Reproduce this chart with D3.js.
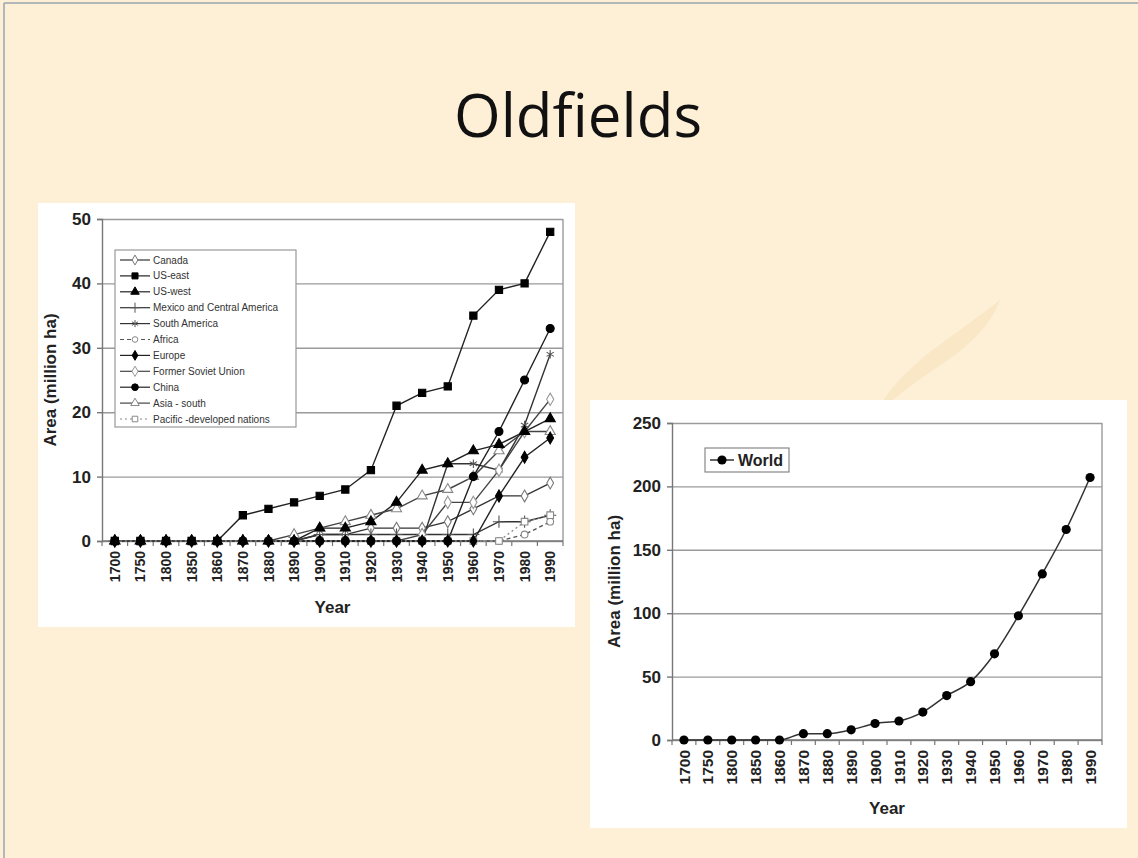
<!DOCTYPE html>
<html>
<head>
<meta charset="utf-8">
<script src="https://cdn.jsdelivr.net/npm/d3@7"></script>
<style>
  body { margin: 0; background: #fdf0d6; }
  svg { display: block; font-family: "Liberation Sans", Arial, sans-serif; }
</style>
</head>
<body>
<svg id="slide" width="1138" height="858"></svg>
<script>
// category axis (both charts)
const years = ["1700","1750","1800","1850","1860","1870","1880","1890","1900",
               "1910","1920","1930","1940","1950","1960","1970","1980","1990"];

// left chart, area of oldfields by region (million ha)
const canada       = [0,0,0,0,0,0,0,0,1,1,2,2,2,3,5,7,7,9];
const usEast       = [0,0,0,0,0,4,5,6,7,8,11,21,23,24,35,39,40,48];
const usWest       = [0,0,0,0,0,0,0,0,2,2,3,6,11,12,14,15,17,19];
const mexico       = [0,0,0,0,0,0,0,0,1,1,1,1,1,1,1,3,3,4];
const southAmerica = [0,0,0,0,0,0,0,0,0,0,0,0,0,12,12,11,18,29];
const africa       = [0,0,0,0,0,0,0,0,0,0,0,0,0,0,0,0,1,3];
const europe       = [0,0,0,0,0,0,0,0,0,0,0,0,0,0,0,7,13,16];
const formerSoviet = [0,0,0,0,0,0,0,0,0,0,0,0,1,6,6,11,17,22];
const china        = [0,0,0,0,0,0,0,0,0,0,0,0,0,0,10,17,25,33];
const asiaSouth    = [0,0,0,0,0,0,0,1,2,3,4,5,7,8,10,14,17,17];
const pacific      = [0,0,0,0,0,0,0,0,0,0,0,0,0,0,0,0,3,4];
const leftTicks    = [0,10,20,30,40,50];

// right chart, world total
const world      = [0,0,0,0,0,5,5,8,13,15,22,35,46,68,98,131,166,207];
const rightTicks = [0,50,100,150,200,250];

const svg = d3.select("#slide");

// slide frame + faint watermark
svg.append("rect").attr("width", 1138).attr("height", 858).attr("fill", "#fdf0d6");
svg.append("path")
    .attr("d", "M1000,300 C985,312 960,330 930,352 C905,372 885,392 872,420 C890,400 915,382 945,362 C970,345 990,326 1000,300 Z")
    .attr("fill", "#f3dcb4").attr("opacity", 0.45);
svg.append("line").attr("x1", 4).attr("y1", 3).attr("x2", 1138).attr("y2", 3)
    .attr("stroke", "#9aa4ae").attr("stroke-width", 1.5);
svg.append("line").attr("x1", 4).attr("y1", 3).attr("x2", 4).attr("y2", 858)
    .attr("stroke", "#9aa4ae").attr("stroke-width", 1.5);

svg.append("text")
    .attr("x", 578).attr("y", 137)
    .attr("text-anchor", "middle")
    .style("font-family", "'Open Sans', 'Noto Sans', sans-serif")
    .style("font-size", "60px")
    .attr("fill", "#111")
    .text("Oldfields");

// draws the shared frame of one Excel-style chart
function frame(g, x, y, ticks, opt) {
    const [x0, x1] = x.range();
    const [y0, y1] = y.range();
    const step = x.step();

    g.append("rect")
        .attr("x", opt.panel[0]).attr("y", opt.panel[1])
        .attr("width", opt.panel[2]).attr("height", opt.panel[3])
        .attr("fill", "#fff");

    // gridlines
    g.append("g")
        .attr("transform", `translate(${x0},0)`)
        .call(d3.axisLeft(y).tickValues(ticks).tickSize(-(x1 - x0)).tickFormat(""))
        .call(a => a.select(".domain").remove())
        .call(a => a.selectAll("line").attr("stroke", "#9a9a9a").attr("stroke-width", 1.4));

    // plot border (right side)
    g.append("line")
        .attr("x1", x1).attr("x2", x1).attr("y1", y1).attr("y2", y0)
        .attr("stroke", "#9a9a9a").attr("stroke-width", 1.4);

    // y axis
    g.append("g")
        .attr("transform", `translate(${x0},0)`)
        .call(d3.axisLeft(y).tickValues(ticks).tickSize(5).tickPadding(6).tickFormat(d3.format("d")))
        .call(a => a.selectAll("path,line").attr("stroke", "#777").attr("stroke-width", 1.4))
        .call(a => a.selectAll("text")
            .attr("fill", "#222").style("font-size", opt.yFont + "px").style("font-weight", "bold"));

    // x axis line
    g.append("line")
        .attr("x1", x0).attr("x2", x1).attr("y1", y0).attr("y2", y0)
        .attr("stroke", "#777").attr("stroke-width", 1.4);

    // tick marks between categories
    g.append("g").selectAll("line")
        .data(x.domain().concat(["end"]))
        .join("line")
        .attr("x1", (d, i) => i < years.length ? x(d) - step / 2 : x(years[years.length - 1]) + step / 2)
        .attr("x2", (d, i) => i < years.length ? x(d) - step / 2 : x(years[years.length - 1]) + step / 2)
        .attr("y1", y0).attr("y2", y0 + 5)
        .attr("stroke", "#777").attr("stroke-width", 1.2);

    // rotated year labels
    g.append("g").selectAll("text")
        .data(x.domain())
        .join("text")
        .attr("transform", d => `translate(${x(d)},${y0 + 10}) rotate(-90)`)
        .attr("text-anchor", "end")
        .attr("dy", "0.36em")
        .attr("fill", "#222")
        .style("font-size", opt.xFont + "px")
        .style("font-weight", "bold")
        .text(d => d);

    g.append("text")
        .attr("transform", `translate(${opt.yTitleX},${(y0 + y1) / 2}) rotate(-90)`)
        .attr("text-anchor", "middle")
        .attr("fill", "#222")
        .style("font-size", "17px").style("font-weight", "bold")
        .text("Area (million ha)");

    g.append("text")
        .attr("x", (x0 + x1) / 2).attr("y", opt.xTitleY)
        .attr("text-anchor", "middle")
        .attr("fill", "#222")
        .style("font-size", "17px").style("font-weight", "bold")
        .text("Year");
}

// ---------- left chart ----------
const xL = d3.scalePoint().domain(years).range([102, 563]).padding(0.5);
const yL = d3.scaleLinear().domain([0, 50]).range([541, 219]);

const left = svg.append("g");
frame(left, xL, yL, leftTicks, {
    panel: [38, 203, 537, 424], yFont: 17, xFont: 14, yTitleX: 56, xTitleY: 613
});

// z: marker stacking, filled markers end up on top like in the original
const leftSeries = [
    {name: "Canada", values: canada, sym: d3.symbolDiamond, size: 40, fill: "#fff", mark: "#777", line: "#333", dash: null, z: 0},
    {name: "US-east", values: usEast, sym: d3.symbolSquare, size: 52, fill: "#000", mark: "#000", line: "#222", dash: null, z: 4},
    {name: "US-west", values: usWest, sym: d3.symbolTriangle, size: 45, fill: "#000", mark: "#000", line: "#222", dash: null, z: 1},
    {name: "Mexico and Central America", values: mexico, sym: d3.symbolPlus, size: 50, fill: "none", mark: "#555", line: "#333", dash: null, z: 0},
    {name: "South America", values: southAmerica, sym: d3.symbolAsterisk, size: 50, fill: "none", mark: "#555", line: "#333", dash: null, z: 0},
    {name: "Africa", values: africa, sym: d3.symbolCircle, size: 36, fill: "#fff", mark: "#888", line: "#555", dash: "4,3", z: 0},
    {name: "Europe", values: europe, sym: d3.symbolDiamond, size: 40, fill: "#000", mark: "#000", line: "#222", dash: null, z: 2},
    {name: "Former Soviet Union", values: formerSoviet, sym: d3.symbolDiamond, size: 44, fill: "#fff", mark: "#999", line: "#444", dash: null, z: 0},
    {name: "China", values: china, sym: d3.symbolCircle, size: 50, fill: "#000", mark: "#000", line: "#222", dash: null, z: 3},
    {name: "Asia - south", values: asiaSouth, sym: d3.symbolTriangle, size: 45, fill: "#fff", mark: "#888", line: "#444", dash: null, z: 0},
    {name: "Pacific -developed nations", values: pacific, sym: d3.symbolSquare, size: 44, fill: "#fff", mark: "#888", line: "#888", dash: "2,3", z: 0}
];

const lineL = d3.line().x((d, i) => xL(years[i])).y(d => yL(d));

left.append("g").selectAll("path")
    .data(leftSeries)
    .join("path")
    .attr("d", s => lineL(s.values))
    .attr("fill", "none")
    .attr("stroke", s => s.line)
    .attr("stroke-width", 1.4)
    .attr("stroke-dasharray", s => s.dash);

leftSeries.slice().sort((a, b) => a.z - b.z).forEach(s => {
    left.append("g").selectAll("path")
        .data(s.values)
        .join("path")
        .attr("transform", (d, i) => `translate(${xL(years[i])},${yL(d)})`)
        .attr("d", d3.symbol().type(s.sym).size(s.size))
        .attr("fill", s.fill)
        .attr("stroke", s.mark)
        .attr("stroke-width", 1.1);
});

// legend
const legL = left.append("g").attr("transform", "translate(115,250)");
legL.append("rect").attr("width", 181).attr("height", 177)
    .attr("fill", "#fff").attr("stroke", "#999").attr("stroke-width", 1.2);
const rowL = legL.selectAll("g.row")
    .data(leftSeries)
    .join("g")
    .attr("class", "row")
    .attr("transform", (d, i) => `translate(0,${10 + i * 15.9})`);
rowL.append("line")
    .attr("x1", 5).attr("x2", 35)
    .attr("stroke", s => s.line).attr("stroke-width", 1.2)
    .attr("stroke-dasharray", s => s.dash);
rowL.append("path")
    .attr("transform", "translate(20,0)")
    .attr("d", s => d3.symbol().type(s.sym).size(s.size * 0.7)())
    .attr("fill", s => s.fill).attr("stroke", s => s.mark).attr("stroke-width", 1);
rowL.append("text")
    .attr("x", 38).attr("dy", "0.35em")
    .attr("fill", "#333")
    .style("font-size", "10px")
    .text(s => s.name);

// ---------- right chart ----------
const xR = d3.scalePoint().domain(years).range([672, 1102]).padding(0.5);
const yR = d3.scaleLinear().domain([0, 250]).range([740, 423]);

const right = svg.append("g");
frame(right, xR, yR, rightTicks, {
    panel: [590, 400, 537, 428], yFont: 17, xFont: 15.5, yTitleX: 620, xTitleY: 814
});

right.append("path")
    .attr("d", d3.line().x((d, i) => xR(years[i])).y(d => yR(d)).curve(d3.curveMonotoneX)(world))
    .attr("fill", "none")
    .attr("stroke", "#333")
    .attr("stroke-width", 1.5);

right.append("g").selectAll("circle")
    .data(world)
    .join("circle")
    .attr("cx", (d, i) => xR(years[i]))
    .attr("cy", d => yR(d))
    .attr("r", 4.6)
    .attr("fill", "#000");

const legR = right.append("g").attr("transform", "translate(705,448)");
legR.append("rect").attr("width", 84).attr("height", 24)
    .attr("fill", "#fff").attr("stroke", "#888").attr("stroke-width", 1.2);
legR.append("line").attr("x1", 5).attr("x2", 29).attr("y1", 12).attr("y2", 12)
    .attr("stroke", "#333").attr("stroke-width", 1.5);
legR.append("circle").attr("cx", 17).attr("cy", 12).attr("r", 4.6).attr("fill", "#000");
legR.append("text")
    .attr("x", 33).attr("y", 12).attr("dy", "0.36em")
    .attr("fill", "#222")
    .style("font-size", "16px").style("font-weight", "bold")
    .text("World");
</script>
</body>
</html>
